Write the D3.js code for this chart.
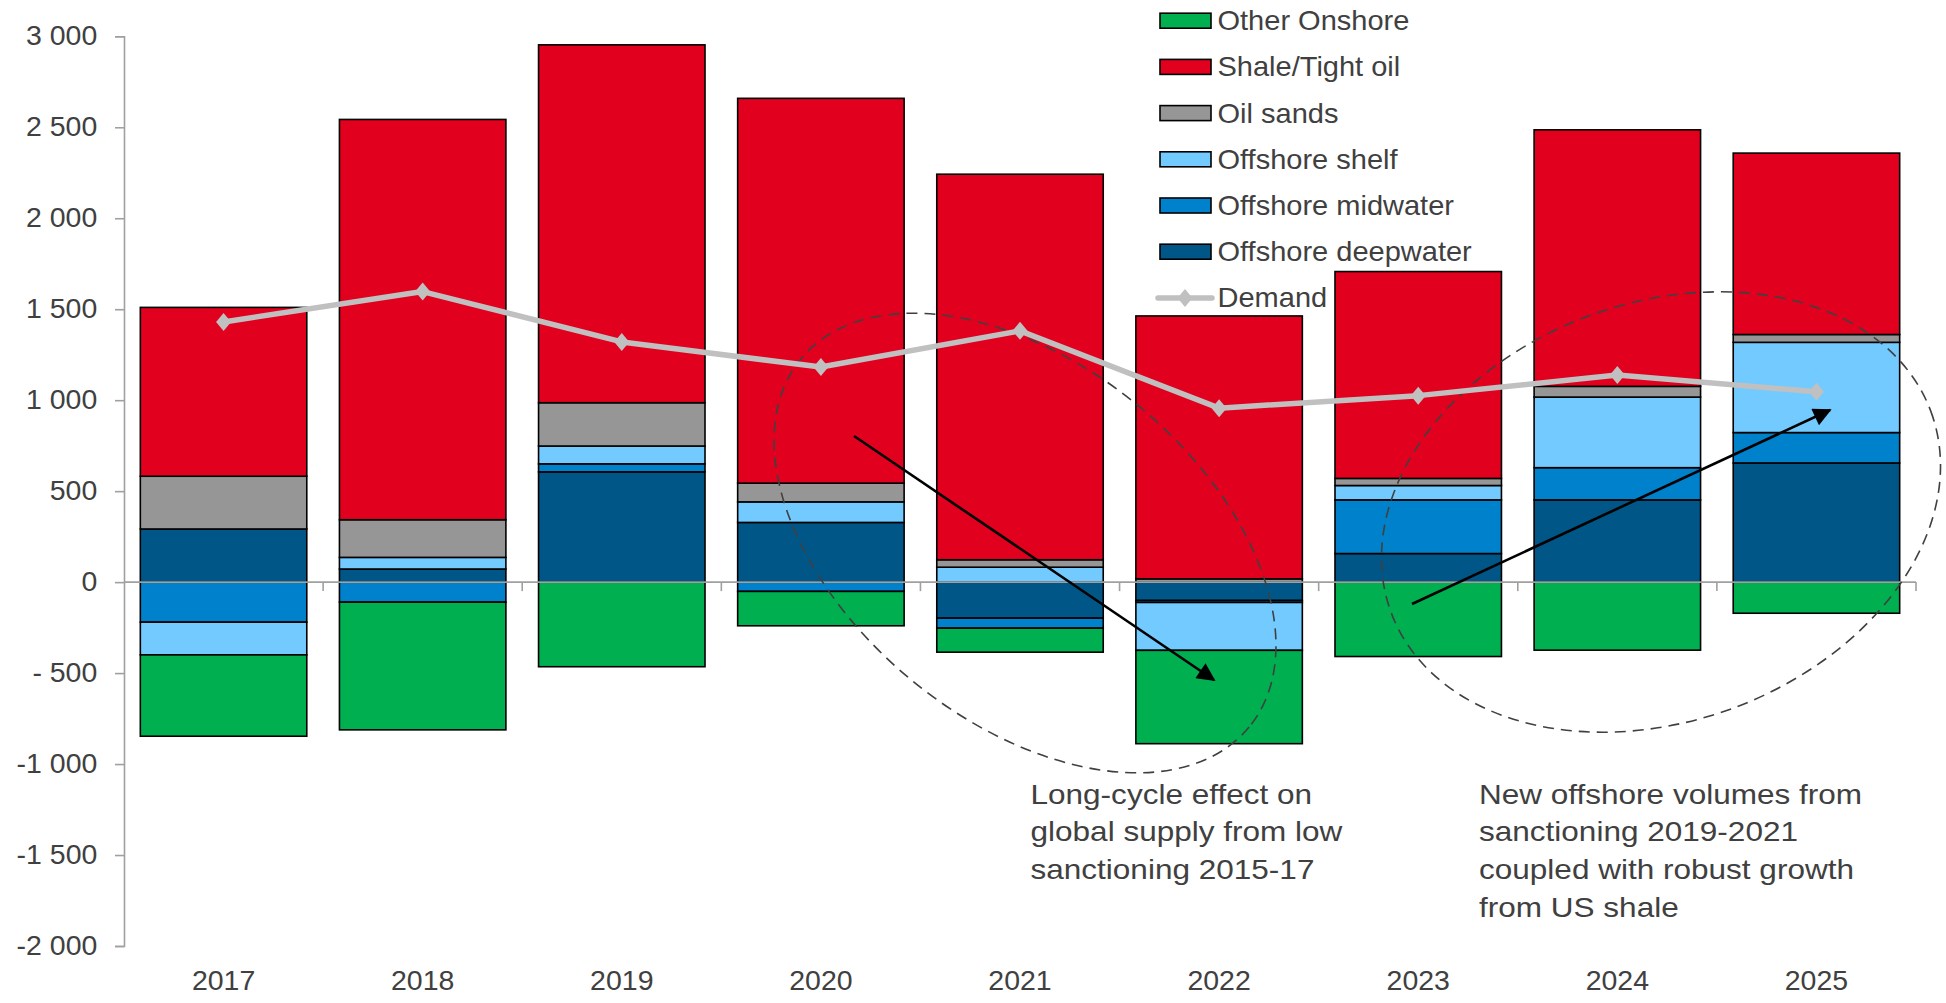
<!DOCTYPE html>
<html>
<head>
<meta charset="utf-8">
<script src="https://cdn.jsdelivr.net/npm/d3@7"></script>
<style>
  html, body { margin: 0; padding: 0; background: #fff; }
  svg { display: block; font-family: "Liberation Sans", Arial, sans-serif; }
</style>
</head>
<body>
<svg id="chart" width="1946" height="1003"></svg>
<script>
// ---- Data ----
const years = ["2017", "2018", "2019", "2020", "2021", "2022", "2023", "2024", "2025"];
const offshoreDeepwater = [292, 72, 606, 328, -198, -101, 157, 452, 655];
const offshoreMidwater  = [-220, -110, 44, -51, -55, -11, 295, 177, 167];
const offshoreShelf     = [-180, 64, 98, 113, 82, -263, 79, 388, 496];
const oilSands          = [290, 207, 238, 103, 41, 18, 39, 59, 43];
const shaleTightOil     = [928, 2200, 1967, 2115, 2119, 1445, 1137, 1410, 997];
const otherOnshore      = [-447, -702, -465, -189, -132, -513, -409, -374, -171];
const demand            = [1430, 1597, 1320, 1182, 1381, 956, 1025, 1138, 1046];

const seriesNames = ["Offshore deepwater", "Offshore midwater", "Offshore shelf", "Oil sands", "Shale/Tight oil", "Other Onshore"];
const seriesColors = ["#005687", "#0081CB", "#72CAFF", "#969696", "#E1001E", "#00AF50"];
const legendOrder = ["Other Onshore", "Shale/Tight oil", "Oil sands", "Offshore shelf", "Offshore midwater", "Offshore deepwater", "Demand"];

const yTickValues = [-2000, -1500, -1000, -500, 0, 500, 1000, 1500, 2000, 2500, 3000];
const yTickLabels = ["-2 000", "-1 500", "-1 000", "- 500", "0", "500", "1 000", "1 500", "2 000", "2 500", "3 000"];

const annotation1 = ["Long-cycle effect on", "global supply from low", "sanctioning 2015-17"];
const annotation2 = ["New offshore volumes from", "sanctioning 2019-2021", "coupled with robust growth", "from US shale"];

// ---- Build table ----
const seriesArrays = [offshoreDeepwater, offshoreMidwater, offshoreShelf, oilSands, shaleTightOil, otherOnshore];
const table = years.map((yr, i) => {
  const row = { year: yr };
  seriesNames.forEach((n, k) => row[n] = seriesArrays[k][i]);
  return row;
});
const color = d3.scaleOrdinal().domain(seriesNames).range(seriesColors);

// ---- Layout ----
const svg = d3.select("#chart");
const mLeft = 124, mRight = 1916, mTop = 36.3, mBottom = 946;
const TXT = "#404040";
const AXIS_FONT = 27, AXIS_SX = 1.055;
const LEG_FONT = 27, LEG_SX = 1.075;
const ANN_FONT = 28.4, ANN_SX = 1.11;

const x = d3.scaleBand().domain(years).range([mLeft, mRight]).paddingInner(0.164).paddingOuter(0.082);
const y = d3.scaleLinear().domain([-2000, 3000]).range([mBottom, mTop]);

const stacked = d3.stack().keys(seriesNames).offset(d3.stackOffsetDiverging)(table);

// Bars
svg.append("g").selectAll("g").data(stacked).join("g")
  .attr("fill", d => color(d.key))
  .selectAll("rect").data(d => d).join("rect")
  .attr("x", d => x(d.data.year))
  .attr("width", x.bandwidth())
  .attr("y", d => y(Math.max(d[0], d[1])))
  .attr("height", d => Math.abs(y(d[0]) - y(d[1])))
  .attr("stroke", "#000")
  .attr("stroke-width", 1.6);

// Y axis
const yAxis = svg.append("g").attr("transform", `translate(${mLeft},0)`)
  .call(d3.axisLeft(y).tickValues(yTickValues).tickSize(9).tickPadding(16.3)
    .tickFormat((d, i) => yTickLabels[i]));
yAxis.select(".domain").attr("stroke", "#A0A0A0").attr("stroke-width", 1.6);
yAxis.selectAll(".tick line").attr("stroke", "#A0A0A0").attr("stroke-width", 1.6);
yAxis.selectAll(".tick text").attr("fill", TXT).attr("font-size", AXIS_FONT)
  .attr("font-family", "Liberation Sans, Arial, sans-serif")
  .attr("transform", `scale(${AXIS_SX},1)`);

// X axis at zero line with boundary ticks
const zeroY = y(0);
const xg = svg.append("g");
xg.append("line").attr("x1", mLeft).attr("x2", mRight).attr("y1", zeroY).attr("y2", zeroY)
  .attr("stroke", "#A0A0A0").attr("stroke-width", 1.6);
const boundaries = d3.range(years.length + 1).map(i => mLeft + i * x.step());
xg.selectAll("line.b").data(boundaries.slice(1)).join("line").attr("class", "b")
  .attr("x1", d => d).attr("x2", d => d).attr("y1", zeroY).attr("y2", zeroY + 9)
  .attr("stroke", "#A0A0A0").attr("stroke-width", 1.6);
xg.selectAll("text").data(years).join("text")
  .attr("transform", d => `translate(${x(d) + x.bandwidth() / 2},990) scale(${AXIS_SX},1)`)
  .attr("text-anchor", "middle").attr("font-size", AXIS_FONT).attr("fill", TXT).text(d => d);

// Dashed ellipses
const ell = svg.append("g").attr("fill", "none").attr("stroke", "#404040")
  .attr("stroke-width", 1.6).attr("stroke-dasharray", "11,7");
ell.append("ellipse").attr("rx", 290).attr("ry", 178)
  .attr("transform", "translate(1025,543) rotate(39.4)");
ell.append("ellipse").attr("rx", 288).attr("ry", 209)
  .attr("transform", "translate(1661,512) rotate(-20.5)");

// Demand line
const line = d3.line().x((d, i) => x(years[i]) + x.bandwidth() / 2).y(d => y(d));
svg.append("path").datum(demand).attr("d", line)
  .attr("fill", "none").attr("stroke", "#C0C0C0").attr("stroke-width", 5.5).attr("stroke-linejoin", "round");
const diamond = "M0,-9L7.5,0L0,9L-7.5,0Z";
svg.append("g").selectAll("path").data(demand).join("path")
  .attr("d", diamond).attr("fill", "#C0C0C0")
  .attr("transform", (d, i) => `translate(${x(years[i]) + x.bandwidth() / 2},${y(d)})`);

// Arrows
const defs = svg.append("defs");
defs.append("marker").attr("id", "ah").attr("viewBox", "0 0 10 10").attr("refX", 9).attr("refY", 5)
  .attr("markerWidth", 9).attr("markerHeight", 7).attr("markerUnits", "strokeWidth").attr("orient", "auto")
  .append("path").attr("d", "M0,0L10,5L0,10Z").attr("fill", "#000");
const arrows = [[854, 436, 1214, 680], [1412, 604, 1830, 410]];
svg.append("g").selectAll("line").data(arrows).join("line")
  .attr("x1", d => d[0]).attr("y1", d => d[1]).attr("x2", d => d[2]).attr("y2", d => d[3])
  .attr("stroke", "#000").attr("stroke-width", 2.6).attr("marker-end", "url(#ah)");

// Annotations
function annot(lines, x0, y0, lh) {
  const t = svg.append("text").attr("font-size", ANN_FONT).attr("fill", TXT)
    .attr("transform", `translate(${x0},${y0}) scale(${ANN_SX},1)`);
  lines.forEach((l, i) => t.append("tspan").attr("x", 0).attr("y", i * lh).text(l));
}
annot(annotation1, 1030.5, 804, 37.5);
annot(annotation2, 1479, 803.5, 37.7);

// Legend
const lg = svg.append("g");
const rowY = i => 20.7 + i * 46.2;
legendOrder.forEach((name, i) => {
  const cy = rowY(i);
  if (name === "Demand") {
    lg.append("line").attr("x1", 1158).attr("x2", 1212).attr("y1", cy).attr("y2", cy)
      .attr("stroke", "#C0C0C0").attr("stroke-width", 5.5).attr("stroke-linecap", "round");
    lg.append("path").attr("d", diamond).attr("fill", "#C0C0C0").attr("transform", `translate(1185,${cy})`);
  } else {
    lg.append("rect").attr("x", 1160).attr("y", cy - 7.5).attr("width", 51).attr("height", 15)
      .attr("fill", color(name)).attr("stroke", "#000").attr("stroke-width", 1.6);
  }
  lg.append("text").attr("transform", `translate(1217.5,${cy}) scale(${LEG_SX},1)`).attr("dy", "0.35em")
    .attr("font-size", LEG_FONT).attr("fill", TXT).text(name);
});
</script>
</body>
</html>
